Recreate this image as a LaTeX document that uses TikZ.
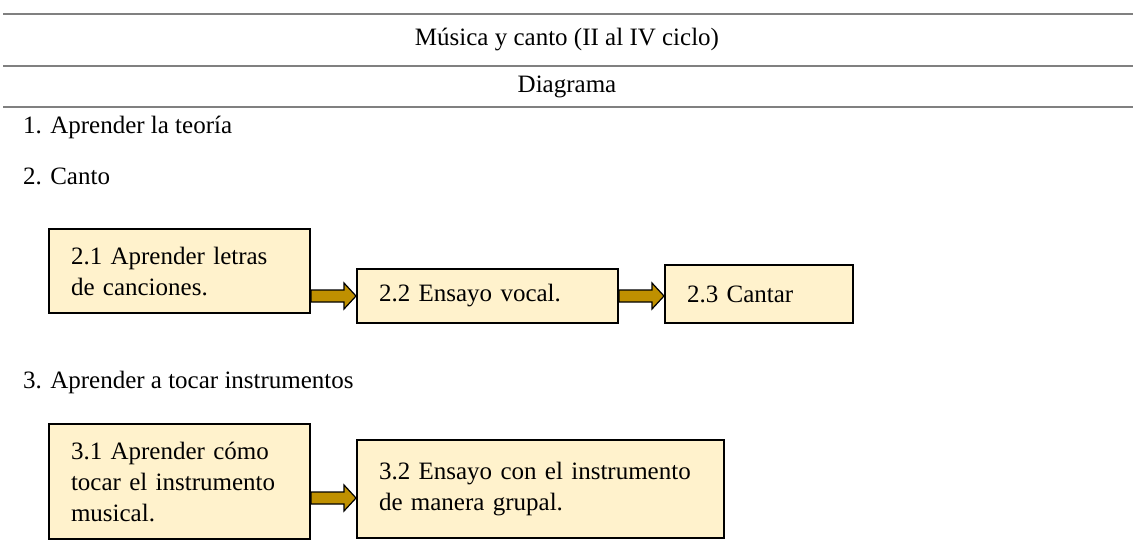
\documentclass[tikz,border=0pt]{standalone}
\usepackage{fontspec}
\setmainfont{Liberation Serif}
\usetikzlibrary{calc}

\definecolor{boxfill}{HTML}{FFF2CC}
\definecolor{arrowgold}{HTML}{BF9000}
\definecolor{rulegray}{HTML}{808080}

\begin{document}
\begin{tikzpicture}[x=1pt, y=-1pt,
  every node/.style={font=\fontsize{25}{31}\selectfont},
  hrule/.style={draw=rulegray, line width=1.6pt},
  item/.style={anchor=west, inner sep=0pt},
  stepbox/.style={draw, line width=2pt, fill=boxfill, anchor=north west,
    align=left, inner xsep=22pt, inner ysep=0pt},
  fat/.style={draw, line width=1.2pt, fill=arrowgold,
    to path={let \p1=(\tikztostart), \p2=(\tikztotarget) in
      (\x1,\y1+6) -- (\x2-12,\y1+6) -- (\x2-12,\y1+13) -- (\x2,\y1)
      -- (\x2-12,\y1-13) -- (\x2-12,\y1-6) -- (\x1,\y1-6) -- cycle}}]
  \useasboundingbox (0,0) rectangle (1133,550);

  % table head
  \draw[hrule] (3,14) -- (1133,14);
  \draw[hrule] (3,66) -- (1133,66);
  \draw[hrule] (3,107) -- (1133,107);
  \node (title) at (567,40) {Música y canto (II al IV ciclo)};
  \node (diag) at (567,87) {Diagrama};

  % steps
  \node[item] (s1) at (23,127) {1. Aprender la teoría};
  \node[item] (s2) at (23,176) {2. Canto};
  \node[item] (s3) at (23,382) {3. Aprender a tocar instrumentos};

  \node[stepbox, minimum width=261, minimum height=84, text width=217] (b21) at (48,228)
    {2.1 Aprender letras\\de canciones.};
  \node[stepbox, minimum width=261, minimum height=54, text width=217] (b22) at (356,268)
    {2.2 Ensayo vocal.};
  \node[stepbox, minimum width=188, minimum height=58, text width=144] (b23) at (664,264)
    {2.3 Cantar};

  \node[stepbox, minimum width=261, minimum height=115, text width=217] (b31) at (48,423)
    {3.1 Aprender cómo\\tocar el instrumento\\musical.};
  \node[stepbox, minimum width=367, minimum height=98, text width=323] (b32) at (356,439)
    {3.2 Ensayo con el instrumento\\de manera grupal.};

  \draw[fat] (b21.east |- b22.west) to (b22.west);
  \draw[fat] (b22.east) to (b23.west |- b22.east);
  \draw[fat] ($(b31.east |- b32.west)+(0,9)$) to ($(b32.west)+(0,9)$);
\end{tikzpicture}
\end{document}
